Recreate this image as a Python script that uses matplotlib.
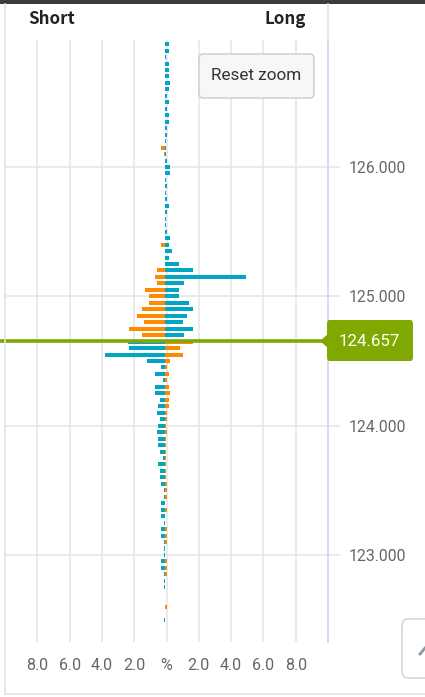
import matplotlib
matplotlib.use("Agg")
import matplotlib.pyplot as plt
from matplotlib.patches import FancyBboxPatch, Polygon, Rectangle
from matplotlib.lines import Line2D

# ---------------- data ----------------
prices = [126.95, 126.90, 126.85, 126.80, 126.75, 126.70, 126.65, 126.60, 126.55, 126.50,
          126.45, 126.40, 126.35, 126.30, 126.25, 126.20, 126.15, 126.10, 126.05, 126.00,
          125.95, 125.90, 125.85, 125.80, 125.75, 125.70, 125.65, 125.60, 125.55, 125.50,
          125.45, 125.40, 125.35, 125.30, 125.25, 125.20, 125.15, 125.10, 125.05, 125.00,
          124.95, 124.90, 124.85, 124.80, 124.75, 124.70, 124.65, 124.60, 124.55, 124.50,
          124.45, 124.40, 124.35, 124.30, 124.25, 124.20, 124.15, 124.10, 124.05, 124.00,
          123.95, 123.90, 123.85, 123.80, 123.75, 123.70, 123.65, 123.60, 123.55, 123.50,
          123.45, 123.40, 123.35, 123.30, 123.25, 123.20, 123.15, 123.10, 123.05, 123.00,
          122.95, 122.90, 122.85, 122.80, 122.75, 122.70, 122.65, 122.60, 122.55, 122.50]

short_pct = [0, 0, 0, 0, 0, 0, 0, 0, 0, 0,
             0, 0, 0, 0, 0, 0, 0.25, 0.06, 0, 0,
             0, 0, 0, 0, 0, 0, 0, 0, 0, 0,
             0, 0.25, 0, 0, 0, 0.49, 0.62, 0.49, 1.24, 0.95,
             0.95, 1.42, 1.73, 1.30, 2.23, 1.42, 2.29, 2.23, 3.71, 1.11,
             0.25, 0.62, 0.12, 0.62, 0.62, 0.31, 0.43, 0.49, 0.31, 0.43,
             0.49, 0.43, 0.43, 0.31, 0.12, 0.43, 0.31, 0.31, 0.25, 0.06,
             0.06, 0.19, 0.19, 0.19, 0.04, 0.25, 0.19, 0.06, 0.04, 0.04,
             0.19, 0.19, 0.06, 0.04, 0.04, 0, 0, 0, 0, 0.04]

long_pct = [0.29, 0.29, 0.10, 0.29, 0.29, 0.29, 0.35, 0.29, 0.16, 0.29,
            0.16, 0.29, 0.29, 0.16, 0.16, 0.10, 0.10, 0.10, 0.16, 0.35,
            0.35, 0.10, 0.16, 0.10, 0.16, 0.29, 0.16, 0.10, 0.10, 0.16,
            0.35, 0.29, 0.43, 0.29, 0.91, 1.77, 5.07, 1.22, 0.91, 0.91,
            1.53, 1.77, 1.40, 1.15, 1.77, 1.22, 1.77, 0.97, 1.15, 0.35,
            0.16, 0.29, 0.16, 0.29, 0.35, 0.29, 0.29, 0.16, 0.16, 0.10,
            0.16, 0.10, 0.10, 0.10, 0.10, 0.10, 0.10, 0.10, 0.12, 0.12,
            0.12, 0, 0.12, 0, 0, 0.12, 0.12, 0.12, 0, 0,
            0.12, 0.12, 0.12, 0, 0, 0, 0, 0.12, 0, 0]

current_price = 124.657
x_ticks = [-8, -6, -4, -2, 0, 2, 4, 6, 8]
x_tick_labels = ["8.0", "6.0", "4.0", "2.0", "%", "2.0", "4.0", "6.0", "8.0"]
y_ticks = [123.0, 124.0, 125.0, 126.0]

# ---------------- style ----------------
TEAL = "#00a6c4"
ORANGE = "#ff8a00"
GREEN = "#7fa800"
GRID = "#e6e6e6"
TXT = "#666666"
BAR_ORIGIN = -0.12  # bars start ~2px left of the centre gridline in the reference

W, H = 425, 697
fig = plt.figure(figsize=(W / 100, H / 100), dpi=100)
fig.patch.set_facecolor("white")

def fx(px):
    return px / W

def fy(py):
    return 1 - py / H

ax = fig.add_axes([fx(5), fy(642), fx(328) - fx(5), fy(40) - fy(642)])
ax.set_facecolor("white")
ax.set_xlim(-10, 10)
ax.set_ylim(122.327, 126.982)

for xv in x_ticks:
    ax.axvline(xv, color=GRID, lw=1.2, zorder=0)
for yv in y_ticks:
    ax.axhline(yv, color=GRID, lw=1.2, zorder=0)

bar_h = 0.031
left_colors = [ORANGE if p > current_price else TEAL for p in prices]
right_colors = [TEAL if p > current_price else ORANGE for p in prices]
ax.barh(prices, [-v for v in short_pct], height=bar_h, left=BAR_ORIGIN,
        color=left_colors, zorder=2, linewidth=0)
ax.barh(prices, long_pct, height=bar_h, left=BAR_ORIGIN,
        color=right_colors, zorder=2, linewidth=0)

ax.axhline(current_price, color=GREEN, lw=2.6, zorder=3, clip_on=False)

for s in ["top", "left", "bottom"]:
    ax.spines[s].set_visible(False)
ax.spines["right"].set_color("#ccd6eb")
ax.spines["right"].set_linewidth(1.2)

ax.set_xticks(x_ticks)
ax.set_xticklabels(x_tick_labels)
ax.tick_params(axis="x", length=0, pad=11.5, labelsize=11.5, labelcolor=TXT)
ax.yaxis.tick_right()
ax.set_yticks(y_ticks)
ax.set_yticklabels([f"{v:.3f}" for v in y_ticks])
ax.tick_params(axis="y", length=8.6, width=1.2, color=GRID, pad=6.5, labelsize=11.3, labelcolor=TXT)
for lab in ax.get_xticklabels() + ax.get_yticklabels():
    lab.set_family("Roboto")

# extend the current price line to the left edge of the figure
fig.add_artist(Line2D([0, fx(5)], [fy(341), fy(341)], color=GREEN, lw=2.6))

# current price label with arrow
poly = Polygon([[fx(320), fy(341)], [fx(329), fy(333)], [fx(329), fy(349)]],
               closed=True, transform=fig.transFigure, facecolor=GREEN, edgecolor="none")
fig.add_artist(poly)
box = FancyBboxPatch((fx(327), fy(361)), fx(413) - fx(327), fy(320) - fy(361),
                     boxstyle="round,pad=0,rounding_size=0.006",
                     transform=fig.transFigure, facecolor=GREEN, edgecolor="none")
fig.add_artist(box)
fig.text(fx(369), fy(341), "124.657", ha="center", va="center", color="white",
         fontsize=12.2, family="Roboto")

# Short / Long headers
fig.text(fx(28), fy(19), "Short", ha="left", va="center", fontsize=12.2, fontweight="bold",
         color="#222222", family=["Noto Sans CJK JP", "DejaVu Sans"])
fig.text(fx(306), fy(19), "Long", ha="right", va="center", fontsize=12.2, fontweight="bold",
         color="#222222", family=["Noto Sans CJK JP", "DejaVu Sans"])

# Reset zoom button
btn = FancyBboxPatch((fx(199), fy(98)), fx(314) - fx(199), fy(54) - fy(98),
                     boxstyle="round,pad=0,rounding_size=0.008",
                     transform=fig.transFigure, facecolor="#f7f7f7", edgecolor="#cccccc", lw=1)
fig.add_artist(btn)
fig.text(fx(256.5), fy(76), "Reset zoom", ha="center", va="center", fontsize=12.3,
         color="#333333", family="Roboto")

# partial button at bottom right
btn2 = FancyBboxPatch((fx(402), fy(678)), fx(440) - fx(402), fy(619) - fy(678),
                      boxstyle="round,pad=0,rounding_size=0.012",
                      transform=fig.transFigure, facecolor="white", edgecolor="#d8d8d8", lw=1.2)
fig.add_artist(btn2)
fig.add_artist(Line2D([fx(420), fx(425)], [fy(654), fy(648)], color="#8a9aa8", lw=2))

# frame: top dark bar, left and bottom borders
fig.add_artist(Rectangle((0, fy(4)), 1, fy(0) - fy(4), transform=fig.transFigure,
                         facecolor="#3c3c3c", edgecolor="none"))
fig.add_artist(Line2D([fx(5), fx(5)], [fy(4), fy(694)], color="#e3e3e3", lw=1.2))
fig.add_artist(Line2D([fx(5), 1], [fy(694), fy(694)], color="#e3e3e3", lw=1.2))
fig.add_artist(Line2D([fx(328), fx(328)], [fy(4), fy(40)], color="#e3e3e3", lw=1.2))

fig.savefig("out.png", dpi=100, facecolor="white")
